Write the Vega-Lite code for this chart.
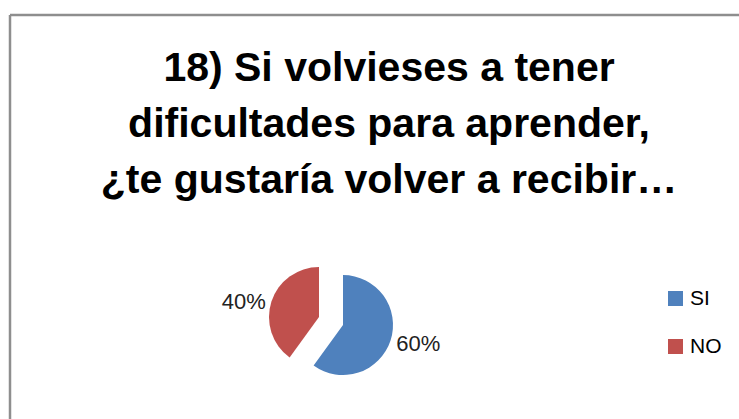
{
  "$schema": "https://vega.github.io/schema/vega-lite/v6.json",
  "autosize": "none",
  "padding": {"left": 10, "top": 15, "right": 0, "bottom": 0},
  "width": 729,
  "height": 404,
  "background": "white",
  "title": {
    "text": ["18) Si volvieses a tener", "dificultades para aprender,", "¿te gustaría volver a recibir…"],
    "font": "Liberation Sans",
    "fontSize": 41,
    "fontWeight": "bold",
    "color": "#000000",
    "lineHeight": 56,
    "anchor": "middle",
    "baseline": "alphabetic",
    "offset": -220,
    "dx": 14.5
  },
  "data": {
    "values": [
      {"category": "SI", "value": 0.6, "order": 1},
      {"category": "NO", "value": 0.4, "order": 2}
    ]
  },
  "transform": [
    {"stack": "value", "groupby": [], "sort": [{"field": "order", "order": "ascending"}], "as": ["v0", "v1"]}
  ],
  "layer": [
    {
      "data": {"values": [{"x0": 0, "x1": 1, "y0": 1, "y1": 0}]},
      "transform": [],
      "mark": {"type": "rule", "stroke": "#8e8e8e", "strokeWidth": 2.5},
      "encoding": {
        "x": {"field": "x0", "type": "quantitative", "scale": {"domain": [0, 1], "nice": false, "zero": false}, "axis": null},
        "x2": {"field": "x1"},
        "y": {"field": "y0", "type": "quantitative", "scale": {"domain": [0, 1], "nice": false, "zero": false}, "axis": null}
      }
    },
    {
      "data": {"values": [{"x0": 0, "x1": 1, "y0": 1, "y1": 0}]},
      "transform": [],
      "mark": {"type": "rule", "stroke": "#8e8e8e", "strokeWidth": 2.5},
      "encoding": {
        "x": {"field": "x0", "type": "quantitative"},
        "y": {"field": "y0", "type": "quantitative"},
        "y2": {"field": "y1"}
      }
    },
    {
      "transform": [{"filter": "datum.category === 'SI'"}],
      "mark": {"type": "arc", "outerRadius": 50, "xOffset": -31.5, "yOffset": 108},
      "encoding": {
        "theta": {"field": "v0", "type": "quantitative", "scale": {"domain": [0, 1]}},
        "theta2": {"field": "v1"},
        "color": {
          "field": "category", "type": "nominal",
          "scale": {"domain": ["SI", "NO"], "range": ["#4F81BD", "#C0504D"]},
          "legend": {
            "title": null, "orient": "none", "legendX": 655, "legendY": 273,
            "symbolType": "square", "symbolSize": 225, "symbolStrokeWidth": 0,
            "labelFont": "Liberation Sans", "labelFontSize": 21, "labelColor": "#000000",
            "labelOffset": 4, "rowPadding": 26, "padding": 0
          }
        }
      }
    },
    {
      "transform": [{"filter": "datum.category === 'NO'"}],
      "mark": {"type": "arc", "outerRadius": 50, "xOffset": -55.5, "yOffset": 100},
      "encoding": {
        "theta": {"field": "v0", "type": "quantitative", "scale": {"domain": [0, 1]}},
        "theta2": {"field": "v1"},
        "color": {"field": "category", "type": "nominal"}
      }
    },
    {
      "mark": {"type": "text", "radius": 77, "xOffset": -29.5, "yOffset": 103, "font": "Liberation Sans", "fontSize": 22, "color": "#222222", "align": "center", "baseline": "middle"},
      "encoding": {
        "theta": {"field": "value", "type": "quantitative", "stack": true},
        "order": {"field": "order"},
        "detail": {"field": "category"},
        "text": {"condition": {"test": "datum.category === 'SI'", "field": "value", "type": "quantitative", "format": ".0%"}, "value": ""}
      }
    },
    {
      "mark": {"type": "text", "radius": 77, "xOffset": -57.5, "yOffset": 109, "font": "Liberation Sans", "fontSize": 22, "color": "#222222", "align": "center", "baseline": "middle"},
      "encoding": {
        "theta": {"field": "value", "type": "quantitative", "stack": true},
        "order": {"field": "order"},
        "detail": {"field": "category"},
        "text": {"condition": {"test": "datum.category === 'NO'", "field": "value", "type": "quantitative", "format": ".0%"}, "value": ""}
      }
    }
  ],
  "config": {
    "view": {"stroke": null}
  }
}
